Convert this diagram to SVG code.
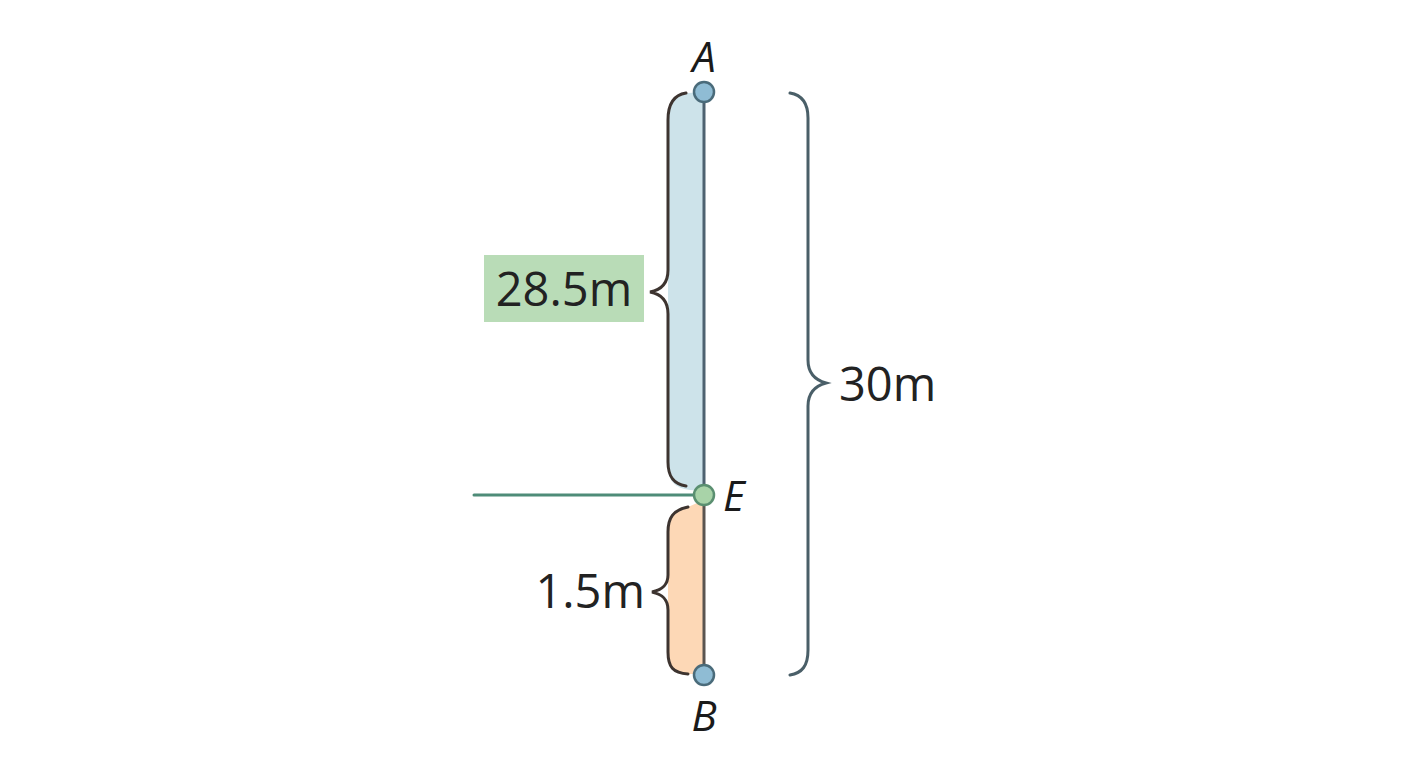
<svg xmlns="http://www.w3.org/2000/svg" width="1408" height="768" viewBox="0 0 1408 768">
<style>
.brace{fill:none;stroke:#3d3430;stroke-width:3;stroke-linecap:round}
.brace2{fill:none;stroke:#4a5f68;stroke-width:3;stroke-linecap:round}
.lbl{font-family:"Open Sans","Noto Sans",sans-serif;font-size:47px;fill:#222}
.pt{font-family:"Open Sans","Noto Sans",sans-serif;font-size:42px;font-style:italic;fill:#1a1a1a}
</style>
<rect width="1408" height="768" fill="#fff"/>
<g id="regions">
<path d="M704,92 L688,93 C672,96 668,106 668,122 L668,466 C668,480 674,488 690,490 L704,491 Z" fill="#cde3ea"/>
<path d="M704,500 L688,507 C673,510 668,518 668,532 L668,655 C668,667 675,673 688,674 L704,674 Z" fill="#fdd8b6"/>
</g>
<g id="connectors">
<line x1="704" y1="92" x2="704" y2="495" stroke="#4e6270" stroke-width="3"/>
<line x1="704" y1="495" x2="704" y2="675" stroke="#5a5550" stroke-width="3"/>
<line x1="474" y1="495" x2="704" y2="495" stroke="#4e8c78" stroke-width="3" stroke-linecap="round"/>
<path class="brace" d="M686,93 C673,95 668,105 668,120 L668,270 C668,284 661,290 650,292 C661,294 668,300 668,314 L668,462 C668,476 673,484 686,486"/>
<path class="brace" d="M688,507 C673,510 668,518 668,532 L668,575 C668,586 661,590 652,592 C661,594 668,598 668,610 L668,652 C668,667 673,673 688,674"/>
<path class="brace2" d="M790,93 C802,95 808,103 808,118 L808,360 C808,373 815,380 826,383 C815,386 808,393 808,406 L808,650 C808,666 802,673 790,675"/>
</g>
<g id="A"><circle cx="704" cy="92" r="10" fill="#8fbcd4" stroke="#4a6b7a" stroke-width="2.5"/><text class="pt" x="704" y="72" text-anchor="middle">A</text></g>
<g id="E"><circle cx="704" cy="495" r="10" fill="#a8d3a8" stroke="#5a8f70" stroke-width="2.5"/><text class="pt" x="723" y="511">E</text></g>
<g id="B"><circle cx="704" cy="675" r="10" fill="#8fbcd4" stroke="#4a6b7a" stroke-width="2.5"/><text class="pt" x="704" y="731" text-anchor="middle">B</text></g>
<g id="label-28.5"><rect x="484" y="255" width="160" height="67" fill="#b9dcb7"/><text class="lbl" x="564" y="306" text-anchor="middle">28.5m</text></g>
<g id="label-1.5"><text class="lbl" x="645" y="608" text-anchor="end">1.5m</text></g>
<g id="label-30"><text class="lbl" x="839" y="401">30m</text></g>
</svg>
